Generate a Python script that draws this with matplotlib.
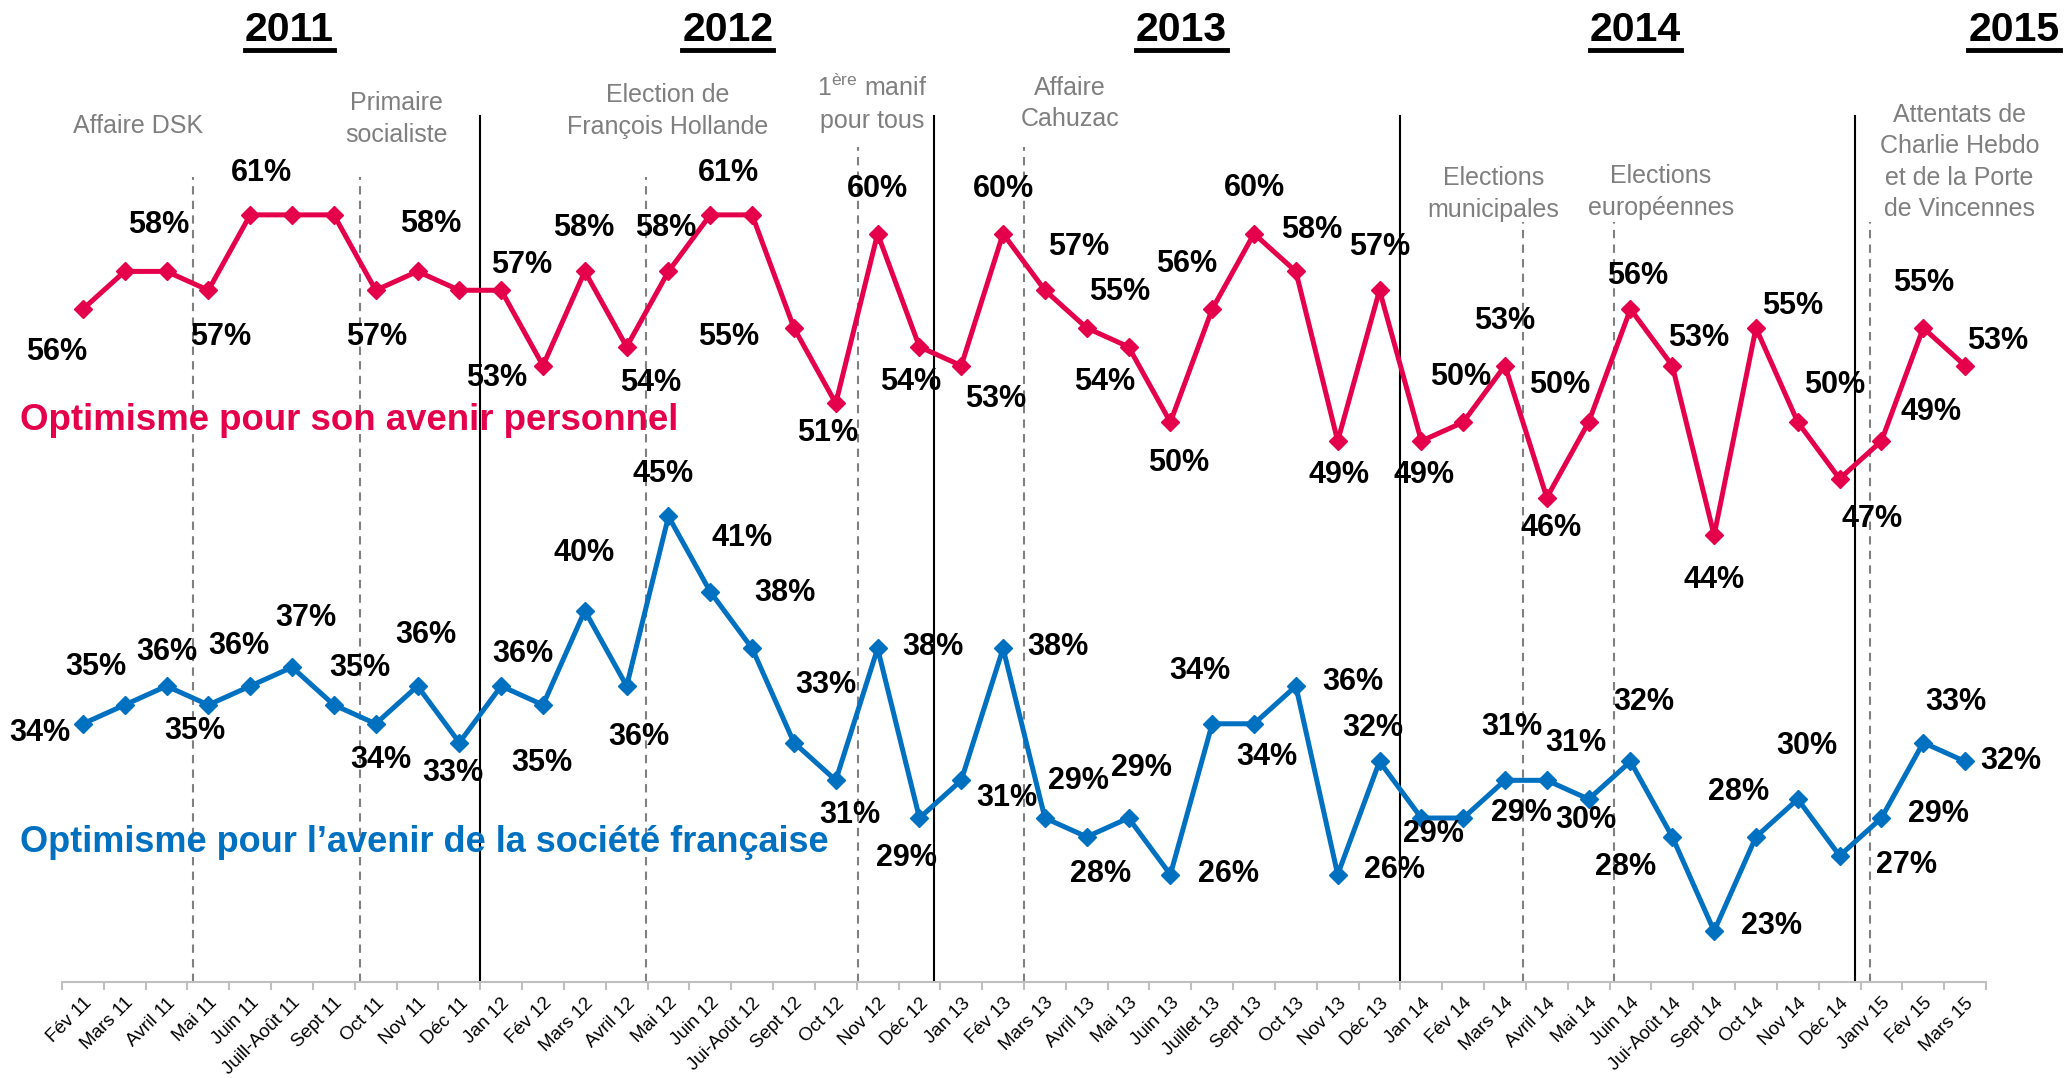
import matplotlib
matplotlib.use('Agg')
import matplotlib.pyplot as plt
from matplotlib.lines import Line2D

# ---- data ----
months = ['Fév 11', 'Mars 11', 'Avril 11', 'Mai 11', 'Juin 11', 'Juill-Août 11', 'Sept 11', 'Oct 11',
          'Nov 11', 'Déc 11', 'Jan 12', 'Fév 12', 'Mars 12', 'Avril 12', 'Mai 12', 'Juin 12',
          'Jui-Août 12', 'Sept 12', 'Oct 12', 'Nov 12', 'Déc 12', 'Jan 13', 'Fév 13', 'Mars 13',
          'Avril 13', 'Mai 13', 'Juin 13', 'Juillet 13', 'Sept 13', 'Oct 13', 'Nov 13', 'Déc 13',
          'Jan 14', 'Fév 14', 'Mars 14', 'Avril 14', 'Mai 14', 'Juin 14', 'Jui-Août 14', 'Sept 14',
          'Oct 14', 'Nov 14', 'Déc 14', 'Janv 15', 'Fév 15', 'Mars 15']

perso = [56, 58, 58, 57, 61, 61, 61, 57, 58, 57, 57, 53, 58, 54, 58, 61, 61, 55, 51, 60, 54, 53, 60,
         57, 55, 54, 50, 56, 60, 58, 49, 57, 49, 50, 53, 46, 50, 56, 53, 44, 55, 50, 47, 49, 55, 53]

societe = [34, 35, 36, 35, 36, 37, 35, 34, 36, 33, 36, 35, 40, 36, 45, 41, 38, 33, 31, 38, 29, 31, 38,
           29, 28, 29, 26, 34, 34, 36, 26, 32, 29, 29, 31, 31, 30, 32, 28, 23, 28, 30, 27, 29, 33, 32]

years = ['2011', '2012', '2013', '2014', '2015']
events = ['Affaire DSK', 'Primaire\nsocialiste', 'Election de\nFrançois Hollande',
          '1$^{\\mathrm{ère}}$ manif\npour tous', 'Affaire\nCahuzac', 'Elections\nmunicipales',
          'Elections\neuropéennes', 'Attentats de\nCharlie Hebdo\net de la Porte\nde Vincennes']

# ---- layout ----
W, H = 2065, 1078
RED = '#E5004C'
BLUE = '#0070C0'
GREY = '#7F7F7F'

year_x = [4.94, 15.42, 26.27, 37.12, 46.17]
event_xy = [(1.32, 65.7), (7.49, 66.1), (13.97, 66.5), (18.88, 66.9), (23.6, 66.9),
            (33.73, 62.1), (37.73, 62.2), (44.87, 63.8)]
dash_x = [2.64, 6.62, 13.47, 18.53, 22.5, 34.43, 36.6, 42.72]
dash_top = [63.0, 63.0, 63.0, 64.6, 64.6, 60.6, 60.6, 60.6]
solid_x = [9.5, 20.35, 31.5, 42.37]

# label offsets in pixels (dx right, dy down); None = no label
perso_off = [(-26, 43), None, (-8, -46), (12, 47), (11, -42), None, None, (1, 47), (13, -47), None,
             (20, -25), (-46, 12), (-1, -43), (24, 36), (-3, -43), (18, -42), None, (-65, 9),
             (-8, 30), (0, -45), (-9, 35), (34, 33), (0, -45), (34, -43), (33, -36), (-24, 35),
             (8, 41), (-26, -45), (0, -46), (16, -41), (1, 34), (0, -43), (3, 34), (-3, -45),
             (0, -45), (4, 30), (-29, -37), (7, -33), (26, -28), (0, 45), (37, -22), (37, -37),
             (32, 40), (50, -29), (0, -45), (33, -25)]
societe_off = [(-43, 9), (-29, -38), (0, -34), (-14, 26), (-11, -40), (14, -49), (26, -37), (5, 36),
               (8, -51), (-7, 30), (22, -32), (-1, 58), (-1, -58), (12, 51), (-5, -42), (32, -54),
               (33, -55), (32, -58), (14, 35), (55, -1), (-13, 40), (46, 18), (55, -1), (34, -37),
               (14, 37), (13, -50), (58, -1), (-12, -53), (13, 33), (57, -4), (57, -5), (-7, -33),
               (12, 16), (58, -5), (7, -53), (29, -37), (-3, 21), (13, -59), (-47, 30), (57, -5),
               (-17, -45), (9, -53), (67, 9), (57, -4), (33, -41), (46, 0)]

plt.rcParams['font.family'] = ['Liberation Sans', 'DejaVu Sans']
plt.rcParams['mathtext.fontset'] = 'custom'
plt.rcParams['mathtext.rm'] = 'Liberation Sans'

fig = plt.figure(figsize=(W / 100, H / 100), dpi=100)
ax = fig.add_axes([62 / W, 1 - 982 / H, (1986 - 62) / W, 982 / H])
x = list(range(len(months)))

ymin, ymax = 20.3, 72.4
ax.set_xlim(-0.5, len(months) - 0.5)
ax.set_ylim(ymin, ymax)

# event lines
for xv, top in zip(dash_x, dash_top):
    ax.plot([xv, xv], [ymin, top], color='#808080', lw=1.5, dashes=(4, 3), zorder=1)
for xv in solid_x:
    ax.plot([xv, xv], [ymin, 66.24], color='black', lw=1.5, zorder=1)

ax.plot(x, perso, color=RED, lw=3.6, marker='D', markersize=9, zorder=3)
ax.plot(x, societe, color=BLUE, lw=3.6, marker='D', markersize=9, zorder=3)

for vals, offs in [(perso, perso_off), (societe, societe_off)]:
    for i, (v, off) in enumerate(zip(vals, offs)):
        if off is None:
            continue
        ax.annotate(f'{v}%', (i, v), xytext=(off[0], -off[1]), textcoords='offset pixels',
                    ha='center', va='center', fontsize=22, fontweight='bold', color='black',
                    zorder=4, annotation_clip=False)

# events
for (ex, ey), txt in zip(event_xy, events):
    ax.text(ex, ey, txt, ha='center', va='center', fontsize=18, color=GREY,
            linespacing=1.4, clip_on=False)

# years
year_texts = []
for yx, yr in zip(year_x, years):
    year_texts.append(ax.text(yx, 70.8, yr, ha='center', va='center', fontsize=29.5,
                              fontweight='bold', color='black', clip_on=False))

# series titles
fig.text(20 / W, 1 - 421 / H, 'Optimisme pour son avenir personnel', color=RED,
         fontsize=26.4, fontweight='bold', va='center', ha='left')
fig.text(20 / W, 1 - 843 / H, 'Optimisme pour l\u2019avenir de la société française', color=BLUE,
         fontsize=26.0, fontweight='bold', va='center', ha='left')

# axes styling
for s in ['top', 'left', 'right']:
    ax.spines[s].set_visible(False)
ax.spines['bottom'].set_color('#BFBFBF')
ax.spines['bottom'].set_linewidth(1.5)
ax.set_yticks([])
ax.set_xticks(x)
ax.set_xticklabels(months, rotation=45, ha='right', va='top', rotation_mode='anchor',
                   fontsize=13.5)
ax.tick_params(axis='x', which='major', length=0, pad=9)
ax.set_xticks([i - 0.5 for i in range(len(months) + 1)], minor=True)
ax.tick_params(axis='x', which='minor', length=6, width=1.5, color='#BFBFBF')

# underline the years
fig.canvas.draw()
renderer = fig.canvas.get_renderer()
for t in year_texts:
    bb = t.get_window_extent(renderer)
    yline = bb.y0 - 1
    fig.add_artist(Line2D([bb.x0 / W, bb.x1 / W], [yline / H, yline / H], color='black',
                          lw=3.5, transform=fig.transFigure))

fig.savefig('out.png', dpi=100)
